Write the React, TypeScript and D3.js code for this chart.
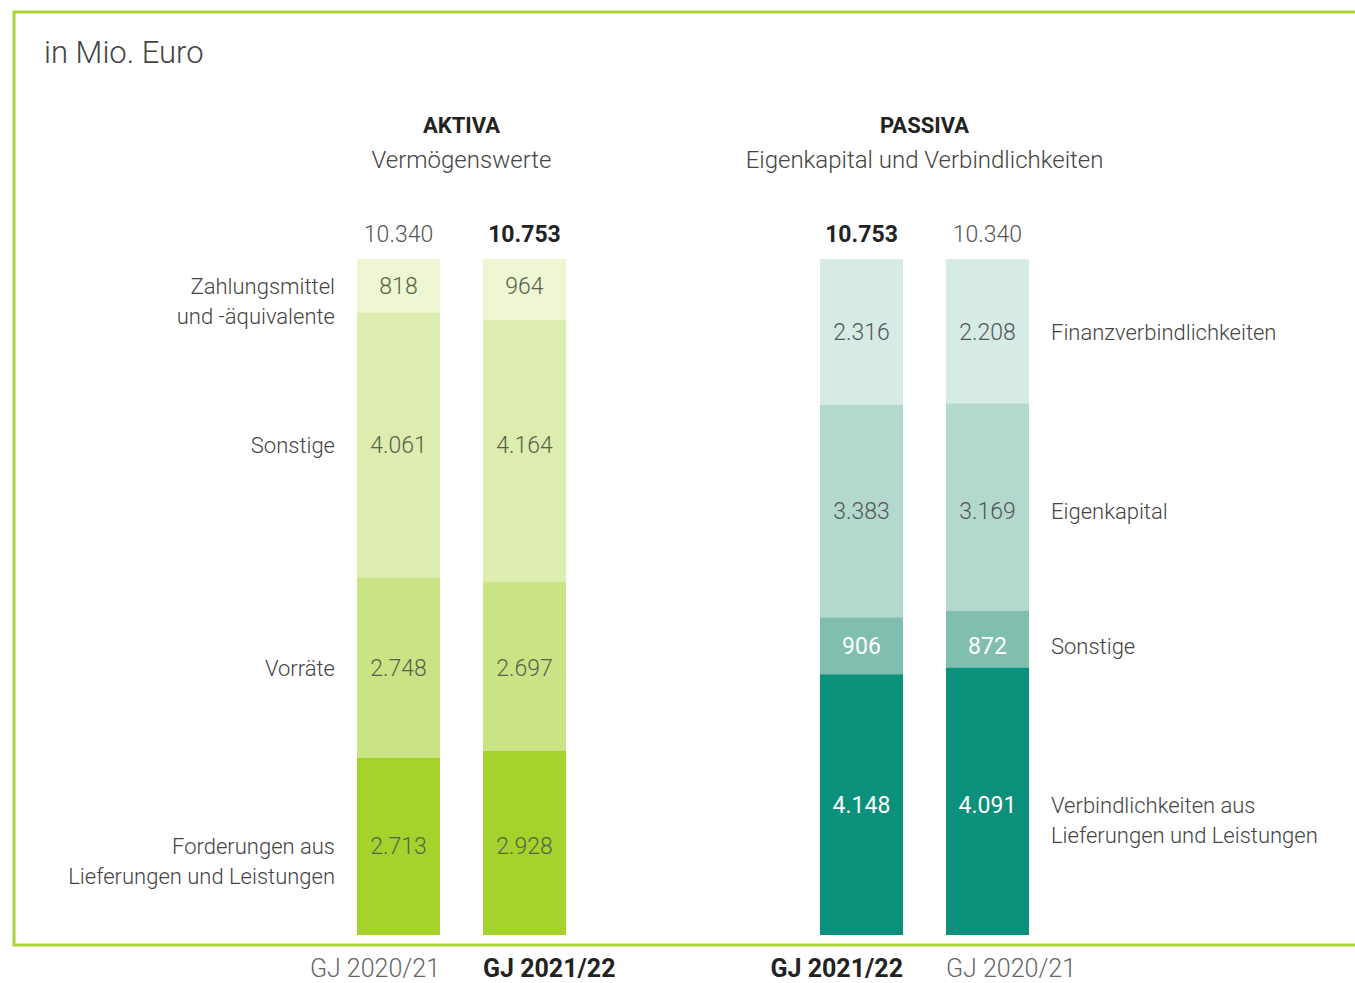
import React from "react";
import * as d3 from "d3";

const aktivaCategories = ["Zahlungsmittel|und -äquivalente", "Sonstige", "Vorräte", "Forderungen aus|Lieferungen und Leistungen"];
const aktiva2021 = [818, 4061, 2748, 2713];
const aktiva2122 = [964, 4164, 2697, 2928];
const passivaCategories = ["Finanzverbindlichkeiten", "Eigenkapital", "Sonstige", "Verbindlichkeiten aus|Lieferungen und Leistungen"];
const passiva2122 = [2316, 3383, 906, 4148];
const passiva2021 = [2208, 3169, 872, 4091];
const aktivaYears = ["GJ 2020/21", "GJ 2021/22"];
const passivaYears = ["GJ 2021/22", "GJ 2020/21"];

const aktivaColors = ["#eef6d3", "#dcedaf", "#cae485", "#a6d22c"];
const passivaColors = ["#d6ebe6", "#b3d8ce", "#80beb0", "#0b907b"];
const aktivaText = ["#56624a", "#56624a", "#56624a", "#56624a"];
const passivaText = ["#555", "#555", "#ffffff", "#ffffff"];

const locale = d3.formatLocale({ decimal: ",", thousands: ".", grouping: [3], currency: ["", "€"] });
const fmt = locale.format(",d");

const FONT = "Roboto, 'Noto Sans', sans-serif";
const TOP = 259;
const BOTTOM = 935;

type Bar = { key: string; values: number[]; bold: boolean };

function stackBar(values: number[]) {
  const total = d3.sum(values);
  const y = d3.scaleLinear().domain([0, total]).range([TOP, BOTTOM]);
  let acc = 0;
  return {
    total,
    segs: values.map((v) => {
      const s = { v, y0: y(acc), y1: y(acc + v) };
      acc += v;
      return s;
    }),
  };
}

function Group({ bars, range, colors, textColors, categories, labelSide, title, subtitle }: any) {
  const x = d3.scaleBand<string>().domain(bars.map((b: Bar) => b.key)).range(range).paddingInner(0.341).paddingOuter(0);
  const bw = x.bandwidth();
  const cx = (range[0] + range[1]) / 2;
  const stacks = bars.map((b: Bar) => stackBar(b.values));
  const rowStack = stacks[0];
  const rowY = rowStack.segs.map((s: any) => (s.y0 + s.y1) / 2 + 8);
  const labelX = labelSide === "left" ? range[0] - 22 : range[1] + 22;
  return (
    <g>
      <text x={cx} y={133} textAnchor="middle" fontFamily={FONT} fontWeight={700} fontSize={22} fill="#222">{title}</text>
      <text x={cx} y={168} textAnchor="middle" fontFamily={FONT} fontWeight={300} fontSize={24} fill="#444">{subtitle}</text>
      {bars.map((b: Bar, i: number) => {
        const st = stacks[i];
        const x0 = x(b.key)!;
        return (
          <g key={b.key}>
            <text x={x0 + bw / 2} y={242} textAnchor="middle" fontFamily={FONT} fontSize={23}
              fontWeight={b.bold ? 700 : 300} fill={b.bold ? "#222" : "#555"}>{fmt(st.total)}</text>
            {st.segs.map((s: any, j: number) => (
              <g key={j}>
                <rect x={x0} y={s.y0} width={bw} height={s.y1 - s.y0} fill={colors[j]} />
                <text x={x0 + bw / 2} y={rowY[j]} textAnchor="middle" fontFamily={FONT}
                  fontWeight={textColors[j] === "#ffffff" ? 400 : 300} fontSize={23} fill={textColors[j]}>{fmt(s.v)}</text>
              </g>
            ))}
            <text x={i === 0 ? x0 + bw : x0} y={977} textAnchor={i === 0 ? "end" : "start"} fontFamily={FONT}
              fontSize={25} fontWeight={b.bold ? 700 : 300} fill={b.bold ? "#222" : "#666"}>{b.key}</text>
          </g>
        );
      })}
      {categories.map((c: string, j: number) => {
        const lines = c.split("|");
        return (
          <text key={j} x={labelX} y={rowY[j]} textAnchor={labelSide === "left" ? "end" : "start"} fontFamily={FONT}
            fontWeight={300} fontSize={22} fill="#444">
            {lines.map((l, k) => (
              <tspan key={k} x={labelX} dy={k === 0 ? 0 : 30}>{l}</tspan>
            ))}
          </text>
        );
      })}
    </g>
  );
}

export default function App() {
  const aktivaBars: Bar[] = [
    { key: aktivaYears[0], values: aktiva2021, bold: false },
    { key: aktivaYears[1], values: aktiva2122, bold: true },
  ];
  const passivaBars: Bar[] = [
    { key: passivaYears[0], values: passiva2122, bold: true },
    { key: passivaYears[1], values: passiva2021, bold: false },
  ];
  return (
    <svg width={1355} height={983} style={{ position: "absolute", left: 0, top: 0, background: "#fff" }}>
      <rect x={0} y={0} width={1355} height={983} fill="#fff" />
      <path d="M1360,12 H14 V945 H1360" fill="none" stroke="#a9d433" strokeWidth={3} />
      <text x={44} y={63} fontFamily={FONT} fontWeight={300} fontSize={31} fill="#444">in Mio. Euro</text>
      <Group bars={aktivaBars} range={[357, 566]} colors={aktivaColors} textColors={aktivaText}
        categories={aktivaCategories} labelSide="left" title="AKTIVA" subtitle="Vermögenswerte" />
      <Group bars={passivaBars} range={[820, 1029]} colors={passivaColors} textColors={passivaText}
        categories={passivaCategories} labelSide="right" title="PASSIVA" subtitle="Eigenkapital und Verbindlichkeiten" />
    </svg>
  );
}
